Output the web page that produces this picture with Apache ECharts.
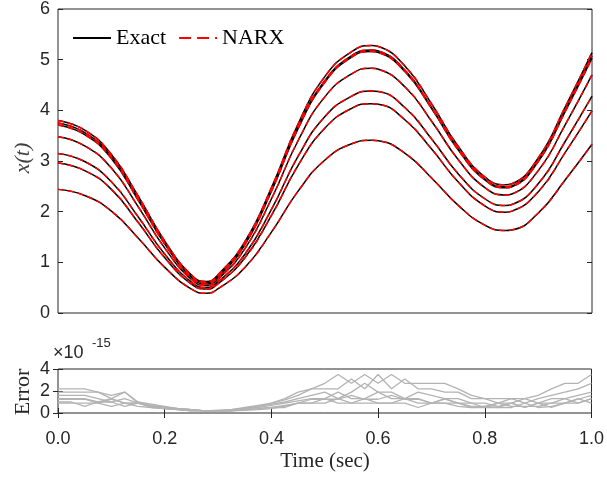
<!DOCTYPE html>
<html><head><meta charset="utf-8">
<script src="https://cdn.jsdelivr.net/npm/echarts@6/dist/echarts.min.js"></script>
<style>html,body{margin:0;padding:0;background:#fff}#c{width:607px;height:477px}</style>
</head><body><div id="c"></div>
<script>
// ---- data ----
const tTop = [0, 0.05, 0.10, 0.15, 0.20, 0.25, 0.278, 0.30, 0.35, 0.40, 0.45, 0.50, 0.55, 0.587, 0.60, 0.65, 0.70, 0.75, 0.80, 0.838, 0.85, 0.90, 0.95, 1.00];
const exact1 = [3.80, 3.61, 3.13, 2.31, 1.42, 0.75, 0.62, 0.76, 1.41, 2.48, 3.74, 4.67, 5.16, 5.28, 5.26, 4.87, 4.12, 3.28, 2.68, 2.53, 2.55, 3.07, 4.07, 5.14];
const exact2 = [3.75, 3.56, 3.09, 2.27, 1.39, 0.73, 0.60, 0.74, 1.38, 2.44, 3.68, 4.59, 5.08, 5.19, 5.17, 4.79, 4.05, 3.23, 2.64, 2.49, 2.51, 3.02, 4.01, 5.08];
const exact3 = [3.71, 3.52, 3.05, 2.23, 1.36, 0.70, 0.57, 0.71, 1.35, 2.41, 3.65, 4.56, 5.05, 5.16, 5.14, 4.76, 4.03, 3.21, 2.62, 2.47, 2.49, 3.00, 3.98, 5.03];
const exact4 = [3.48, 3.30, 2.86, 2.10, 1.28, 0.66, 0.54, 0.67, 1.27, 2.26, 3.41, 4.27, 4.72, 4.83, 4.81, 4.46, 3.78, 3.02, 2.47, 2.33, 2.35, 2.82, 3.72, 4.70];
const exact5 = [3.15, 2.99, 2.59, 1.90, 1.16, 0.61, 0.50, 0.62, 1.16, 2.05, 3.10, 3.88, 4.28, 4.38, 4.37, 4.05, 3.43, 2.74, 2.25, 2.12, 2.14, 2.56, 3.39, 4.28];
const exact6 = [2.96, 2.81, 2.44, 1.79, 1.09, 0.57, 0.47, 0.58, 1.09, 1.93, 2.92, 3.65, 4.04, 4.13, 4.12, 3.81, 3.23, 2.58, 2.11, 1.99, 2.01, 2.40, 3.17, 3.99];
const exact7 = [2.44, 2.32, 2.01, 1.48, 0.90, 0.47, 0.39, 0.48, 0.90, 1.60, 2.41, 3.02, 3.34, 3.41, 3.40, 3.15, 2.66, 2.12, 1.73, 1.63, 1.64, 1.98, 2.63, 3.33];
const exactCurves = [exact1, exact2, exact3, exact4, exact5, exact6, exact7];
// NARX predictions coincide with the exact curves (error ~1e-15)
const narxCurves = [exact1, exact2, exact3, exact4, exact5, exact6, exact7];

const tErr = [0, 0.025, 0.05, 0.075, 0.1, 0.125, 0.15, 0.175, 0.2, 0.225, 0.25, 0.275, 0.3, 0.325, 0.35, 0.375, 0.4, 0.425, 0.45, 0.475, 0.5, 0.525, 0.55, 0.575, 0.6, 0.625, 0.65, 0.675, 0.7, 0.725, 0.75, 0.775, 0.8, 0.825, 0.85, 0.875, 0.9, 0.925, 0.95, 0.975, 1.0];
// error values in units of 1e-15
const err1 = [2.2,2.2,2.2,1.9,1.3,1.9,0.9,0.7,0.5,0.4,0.3,0.2,0.2,0.3,0.4,0.6,0.9,1.3,1.9,2.2,2.7,3.5,2.7,3.5,2.7,3.5,2.7,2.7,2.7,2.7,2.2,1.6,1.3,1.3,1.3,1.3,1.6,2.2,2.7,2.7,3.5];
const err2 = [1.9,1.9,1.9,1.9,1.6,1.9,1.0,0.8,0.6,0.4,0.3,0.2,0.25,0.3,0.5,0.7,0.9,1.2,1.6,2.2,2.2,2.2,3.1,2.2,3.5,2.2,3.1,2.2,2.2,1.9,1.9,1.3,1.3,0.9,1.3,0.9,1.3,1.6,1.9,2.2,2.7];
const err3 = [1.6,1.6,1.6,1.3,1.0,1.3,0.9,0.7,0.5,0.4,0.3,0.2,0.2,0.3,0.4,0.6,0.8,1.0,1.3,1.6,1.9,1.3,1.9,2.7,1.9,1.9,1.3,1.9,1.6,1.3,1.3,0.9,0.9,0.6,0.9,1.3,0.9,1.3,1.3,1.6,1.9];
const err4 = [1.3,1.3,1.3,1.0,1.3,0.9,0.9,0.6,0.5,0.4,0.3,0.2,0.2,0.2,0.4,0.5,0.7,0.9,1.1,1.3,1.3,1.9,1.3,1.3,1.9,1.3,1.3,1.3,0.9,1.3,0.9,0.9,0.5,0.9,0.9,0.5,0.9,0.9,1.3,0.9,1.3];
const err5 = [1.0,1.0,0.6,1.0,1.0,0.6,0.9,0.6,0.4,0.3,0.25,0.2,0.15,0.2,0.3,0.4,0.5,0.5,0.9,0.9,1.3,0.9,0.9,1.3,0.9,0.9,1.3,0.9,0.9,0.9,0.9,0.5,0.5,0.5,0.9,0.5,0.9,0.5,0.9,1.3,0.9];
const err6 = [0.9,0.9,0.9,0.9,0.6,0.9,0.6,0.5,0.4,0.3,0.2,0.2,0.15,0.2,0.25,0.3,0.4,0.6,0.9,0.9,0.9,1.3,0.9,0.9,0.9,0.9,0.9,0.5,0.9,0.9,0.6,0.5,0.6,0.5,0.5,0.9,0.5,0.6,0.9,0.9,1.3];
const err7 = [1.25,1.25,1.25,0.9,1.25,0.9,0.9,0.5,0.4,0.3,0.2,0.2,0.2,0.25,0.3,0.4,0.5,0.7,0.9,1.25,1.25,1.25,1.6,1.25,1.25,1.6,1.25,1.25,0.9,1.25,0.9,0.6,0.6,0.9,0.6,0.6,0.6,0.9,0.9,1.25,1.6];
const errCurves = [err1, err2, err3, err4, err5, err6, err7];

const legendNames = ['Exact', 'NARX'];
const xLabelName = 'Time (sec)';
const yLabelTop = 'x(t)';
const yLabelBottom = 'Error';

// ---- chart ----
const AX = '#262626';
const SANS = "'Liberation Sans', Arial, sans-serif";
const SERIF = "'Liberation Serif', 'Times New Roman', serif";
const pair = (xs, ys) => xs.map((x, i) => [x, ys[i]]);
const series = [];
exactCurves.forEach(c => series.push({
  name: legendNames[0], type: 'line', xAxisIndex: 0, yAxisIndex: 0, data: pair(tTop, c),
  smooth: 0.5, symbol: 'none', silent: true, z: 2,
  lineStyle: { color: '#000000', width: 1.5 }, itemStyle: { color: '#000000' }
}));
narxCurves.forEach(c => series.push({
  name: legendNames[1], type: 'line', xAxisIndex: 0, yAxisIndex: 0, data: pair(tTop, c),
  smooth: 0.5, symbol: 'none', silent: true, z: 3,
  lineStyle: { color: '#ff0000', width: 1.5, type: [6, 4] }, itemStyle: { color: '#ff0000' }
}));
errCurves.forEach(c => series.push({
  name: 'err', type: 'line', xAxisIndex: 1, yAxisIndex: 2, data: pair(tErr, c),
  symbol: 'none', silent: true, z: 2,
  lineStyle: { color: '#b3b3b3', width: 1.3 }, itemStyle: { color: '#b3b3b3' }
}));

const tickIn = { show: true, inside: true, length: 5, lineStyle: { color: AX, width: 1 } };
const noLine = { show: false };
const chart = echarts.init(document.getElementById('c'), null, { renderer: 'canvas' });
chart.setOption({
  animation: false,
  backgroundColor: '#ffffff',
  grid: [
    { left: 58, top: 5, width: 534, height: 308, show: true, borderColor: AX, borderWidth: 1, backgroundColor: 'transparent' },
    { left: 58, top: 369, width: 534, height: 44, show: true, borderColor: AX, borderWidth: 1, backgroundColor: 'transparent' }
  ],
  legend: {
    data: [legendNames[0], { name: legendNames[1], lineStyle: { type: [12, 6] } }],
    left: 67, top: 22, itemWidth: 38, itemHeight: 14, itemGap: 12,
    itemStyle: { opacity: 0, borderWidth: 0 },
    textStyle: { fontFamily: SERIF, fontSize: 22, color: '#000' }, selectedMode: false
  },
  xAxis: [
    { gridIndex: 0, type: 'value', min: 0, max: 1, axisLabel: { show: false }, axisTick: { show: false }, axisLine: noLine, splitLine: { show: false } },
    { gridIndex: 1, type: 'value', min: 0, max: 1, interval: 0.2, position: 'bottom',
      axisLabel: { fontFamily: SANS, fontSize: 18, color: AX, margin: 17, formatter: v => v.toFixed(1) },
      axisTick: tickIn, axisLine: noLine, splitLine: { show: false } },
    { gridIndex: 1, type: 'value', min: 0, max: 1, interval: 0.2, position: 'top',
      axisLabel: { show: false }, axisTick: tickIn, axisLine: noLine, splitLine: { show: false } }
  ],
  yAxis: [
    { gridIndex: 0, type: 'value', min: 0, max: 6, interval: 1, position: 'left',
      axisLabel: { fontFamily: SANS, fontSize: 18, color: AX, margin: 8 },
      axisTick: tickIn, axisLine: noLine, splitLine: { show: false } },
    { gridIndex: 0, type: 'value', min: 0, max: 6, interval: 1, position: 'right',
      axisLabel: { show: false }, axisTick: tickIn, axisLine: noLine, splitLine: { show: false } },
    { gridIndex: 1, type: 'value', min: 0, max: 4, interval: 2, position: 'left',
      axisLabel: { fontFamily: SANS, fontSize: 18, color: AX, margin: 8 },
      axisTick: tickIn, axisLine: noLine, splitLine: { show: false } },
    { gridIndex: 1, type: 'value', min: 0, max: 4, interval: 2, position: 'right',
      axisLabel: { show: false }, axisTick: tickIn, axisLine: noLine, splitLine: { show: false } }
  ],
  graphic: [
    { type: 'text', x: 23, y: 158, rotation: Math.PI / 2, style: { text: yLabelTop, fontFamily: SERIF, fontStyle: 'italic', fontSize: 22, fill: '#404040', align: 'center', verticalAlign: 'middle' } },
    { type: 'text', x: 23, y: 392, rotation: Math.PI / 2, style: { text: yLabelBottom, fontFamily: SERIF, fontSize: 22, fill: AX, align: 'center', verticalAlign: 'middle' } },
    { type: 'text', x: 325, y: 461, style: { text: xLabelName, fontFamily: SERIF, fontSize: 21, fill: AX, align: 'center', verticalAlign: 'middle' } },
    { type: 'text', x: 53, y: 353, style: { text: '\u00d710', fontFamily: SANS, fontSize: 18, fill: AX, align: 'left', verticalAlign: 'middle' } },
    { type: 'text', x: 92, y: 343, style: { text: '-15', fontFamily: SANS, fontSize: 13, fill: AX, align: 'left', verticalAlign: 'middle' } }
  ],
  series: series
});
</script></body></html>
